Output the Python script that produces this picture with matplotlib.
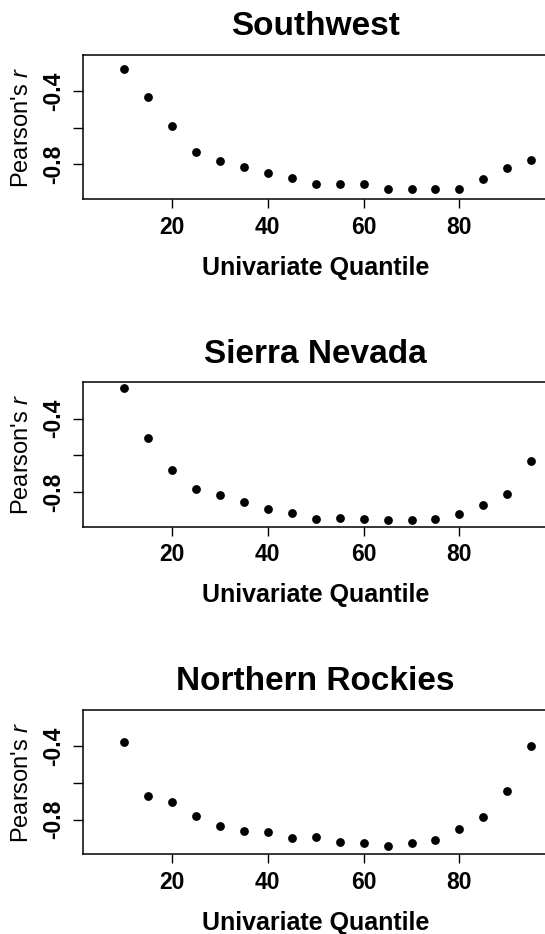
import matplotlib
matplotlib.use('Agg')
import matplotlib.pyplot as plt

plt.rcParams['font.family'] = ['Liberation Sans', 'DejaVu Sans']
plt.rcParams['mathtext.fontset'] = 'custom'
plt.rcParams['mathtext.rm'] = 'Liberation Sans'
plt.rcParams['mathtext.it'] = 'Liberation Sans:italic'
plt.rcParams['axes.unicode_minus'] = False

# данные
quantiles = [10, 15, 20, 25, 30, 35, 40, 45, 50, 55, 60, 65, 70, 75, 80, 85, 90, 95]
regions = ['Southwest', 'Sierra Nevada', 'Northern Rockies']
southwest = [-0.278, -0.434, -0.588, -0.733, -0.780, -0.815, -0.849, -0.871, -0.905,
             -0.905, -0.905, -0.934, -0.932, -0.932, -0.932, -0.878, -0.818, -0.775]
sierra_nevada = [-0.232, -0.505, -0.682, -0.787, -0.816, -0.858, -0.894, -0.914, -0.948,
                 -0.945, -0.950, -0.952, -0.956, -0.950, -0.921, -0.872, -0.813, -0.632]
northern_rockies = [-0.375, -0.673, -0.702, -0.782, -0.838, -0.865, -0.867, -0.900, -0.896,
                    -0.922, -0.929, -0.947, -0.929, -0.913, -0.853, -0.787, -0.642, -0.400]
x_ticks = [20, 40, 60, 80]
y_ticks = [-0.4, -0.6, -0.8]
y_tick_labels = ['-0.4', '', '-0.8']

series = [southwest, sierra_nevada, northern_rockies]

fig = plt.figure(figsize=(5.45, 9.34), dpi=100)

# нижние края трёх панелей (доли фигуры)
bottoms = [0.7866, 0.4361, 0.0853]

for name, values, bottom in zip(regions, series, bottoms):
    ax = fig.add_axes([0.1517, bottom, 0.8549, 0.155])
    ax.scatter(quantiles, values, s=40, color='black', zorder=3, linewidths=0)

    ax.set_xlim(1.4, 98.6)
    ax.set_ylim(-0.99, -0.20)
    ax.set_xticks(x_ticks)
    ax.set_xticklabels([str(t) for t in x_ticks], fontweight='bold', fontsize=16.5)
    ax.set_yticks(y_ticks)
    ax.set_yticklabels(y_tick_labels, fontweight='bold', fontsize=16.5,
                       rotation=90, va='center')
    ax.tick_params(axis='x', length=6.5, width=1.0, pad=5.2)
    ax.tick_params(axis='y', length=7.2, width=1.0, pad=5.6)
    for sp in ax.spines.values():
        sp.set_linewidth(1.1)

    ax.set_title(name, fontsize=24, fontweight='bold', pad=13.9)
    ax.set_xlabel('Univariate Quantile', fontsize=18, fontweight='bold', va='baseline')
    ax.xaxis.set_label_coords(0.5, -0.522)
    ax.set_ylabel("Pearson's $r$", fontsize=17, va='baseline')
    ax.yaxis.set_label_coords(-0.1168, 0.5)

fig.savefig('out.png', dpi=100)
